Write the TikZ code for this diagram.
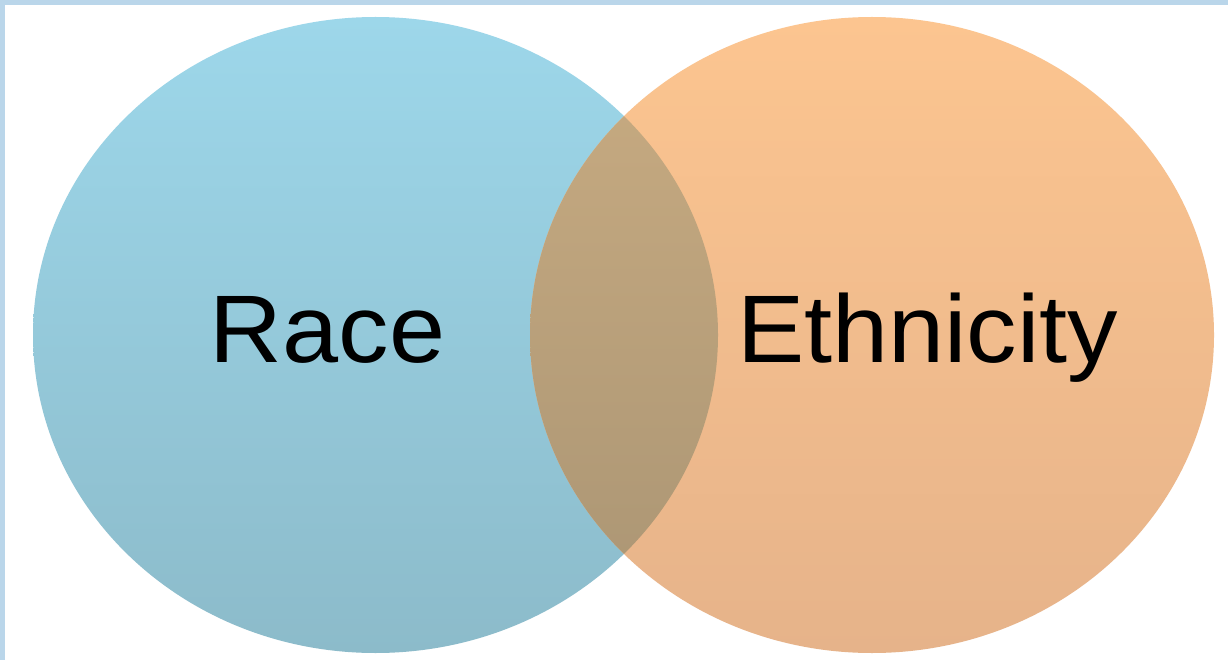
\documentclass[tikz,border=0pt]{standalone}
\usepackage{fontspec}
\setmainfont{Liberation Sans}
\definecolor{frameblue}{HTML}{BAD6EA}
\definecolor{bluetop}{HTML}{9DD7EA}
\definecolor{bluebot}{HTML}{8CBBCA}
\definecolor{orangetop}{HTML}{FCC590}
\definecolor{orangebot}{HTML}{E6B38A}
\definecolor{mixtop}{HTML}{C9AC82}
\definecolor{mixbot}{HTML}{A99473}
\tikzset{
  bluecircle/.style={top color=bluetop, bottom color=bluebot, draw=none},
  orangecircle/.style={top color=orangetop, bottom color=orangebot, draw=none},
  mixfill/.style={top color=mixtop, bottom color=mixbot, draw=none},
  label/.style={font=\fontsize{96}{100}\selectfont, text=black, inner sep=0pt, anchor=base, xscale=1.05}
}
\begin{document}
\begin{tikzpicture}[x=1pt,y=-1pt]
\useasboundingbox (0,0) rectangle (1228,660);
\fill[white] (0,0) rectangle (1228,660);
\fill[frameblue] (0,0) rectangle (1228,5);
\fill[frameblue] (0,0) rectangle (5,660);
\path[bluecircle] (375.5,335) ellipse [x radius=342.5pt, y radius=318pt];
\path[orangecircle] (872,335) ellipse [x radius=342pt, y radius=318pt];
\begin{scope}
  \clip (375.5,335) ellipse [x radius=342.5pt, y radius=318pt];
  \path[mixfill] (872,335) ellipse [x radius=342pt, y radius=318pt];
\end{scope}
\node[label] (race) at (327.5,362) {Race};
\node[label] (ethnicity) at (927.5,362) {Ethnicity};
\end{tikzpicture}
\end{document}
